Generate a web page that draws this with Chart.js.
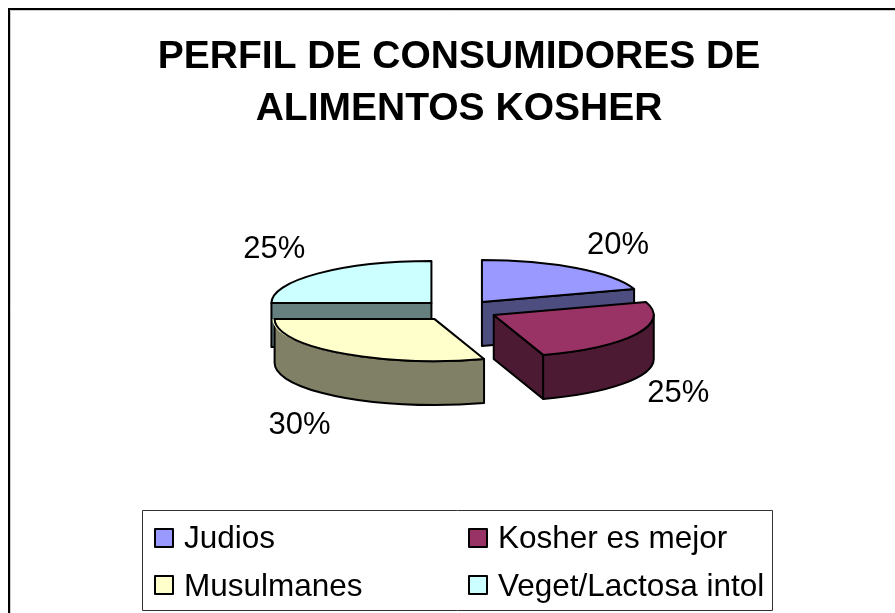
<!DOCTYPE html>
<html>
<head>
<meta charset="utf-8">
<script src="https://cdn.jsdelivr.net/npm/chart.js@4"></script>
<style>
html,body{margin:0;padding:0;background:#fff;}
#wrap{width:895px;height:613px;position:relative;}
</style>
</head>
<body>
<div id="wrap"><canvas id="c" width="895" height="613"></canvas></div>
<script>
const titleLines = ['PERFIL DE CONSUMIDORES DE', 'ALIMENTOS KOSHER'];
const categories = ['Judios', 'Kosher es mejor', 'Musulmanes', 'Veget/Lactosa intol'];
const shares = [20, 25, 30, 25];
const topColors = ['#9999FF', '#993366', '#FFFFCC', '#CCFFFF'];
const sideColors = ['#4D4D80', '#4D1A33', '#808066', '#668080'];

const FONT = '"Liberation Sans", Arial, sans-serif';
const TILT = 42 / 160, DEPTH = 44, LABEL_PX = 31, LEGEND_PX = 31.5;
const paintOrder = [3, 0, 1, 2];
const sliceOffsets = [156, 156, 166, 156];
const labelNudge = [[42, -23], [42, 59], [-41, 72], [-44, -24]];

function apex(arc, cy) {
  const mid = (arc.startAngle + arc.endAngle) / 2;
  const d = (arc.options.offset || 0) / 4;
  return { x: arc.x + Math.cos(mid) * d,
           y: cy + Math.sin(mid) * d * TILT };
}
function edge(p, r, a, dy) {
  return [p.x + Math.cos(a) * r, p.y + Math.sin(a) * r * TILT + (dy || 0)];
}
function topPath(ctx, p, r, s, e) {
  ctx.beginPath();
  ctx.moveTo(p.x, p.y);
  ctx.ellipse(p.x, p.y, r, r * TILT, 0, s, e);
  ctx.closePath();
}
function drawWalls(ctx, p, r, s, e, fill) {
  ctx.fillStyle = fill;
  const quad = (a) => {
    const q = edge(p, r, a), q2 = edge(p, r, a, DEPTH);
    ctx.beginPath();
    ctx.moveTo(p.x, p.y);
    ctx.lineTo(q[0], q[1]);
    ctx.lineTo(q2[0], q2[1]);
    ctx.lineTo(p.x, p.y + DEPTH);
    ctx.closePath();
    ctx.fill(); ctx.stroke();
  };
  if (-Math.cos(s) > 1e-6) quad(s);
  if (Math.cos(e) > 1e-6) quad(e);
  const lo = Math.max(s, 0), hi = Math.min(e, Math.PI);
  if (hi > lo) {
    ctx.beginPath();
    ctx.ellipse(p.x, p.y, r, r * TILT, 0, lo, hi);
    ctx.ellipse(p.x, p.y + DEPTH, r, r * TILT, 0, hi, lo, true);
    ctx.closePath();
    ctx.fill(); ctx.stroke();
  }
}

const sliced3d = {
  id: 'sliced3d',
  beforeDatasetDraw(chart, args) {
    const ctx = chart.ctx, arcs = args.meta.data;
    const cy = (chart.chartArea.top + chart.chartArea.bottom) / 2;
    ctx.lineJoin = 'round';
    ctx.strokeStyle = '#000';
    ctx.lineWidth = 2;
    paintOrder.forEach((i) => {
      const arc = arcs[i];
      const p = apex(arc, cy), r = arc.outerRadius;
      drawWalls(ctx, p, r, arc.startAngle, arc.endAngle, sideColors[i]);
      ctx.save();
      ctx.translate(0, cy * (1 - TILT));
      ctx.scale(1, TILT);
      arc.draw(ctx);
      ctx.restore();
      topPath(ctx, p, r, arc.startAngle, arc.endAngle);
      ctx.stroke();
    });
    return false;
  },
  afterDatasetsDraw(chart) {
    const ctx = chart.ctx, arcs = chart.getDatasetMeta(0).data;
    const cy = (chart.chartArea.top + chart.chartArea.bottom) / 2;
    const total = shares.reduce((a, b) => a + b, 0);
    ctx.fillStyle = '#000';
    ctx.font = LABEL_PX + 'px ' + FONT;
    ctx.textAlign = 'center';
    ctx.textBaseline = 'middle';
    arcs.forEach((arc, i) => {
      const p = apex(arc, cy);
      const e = edge(p, arc.outerRadius, (arc.startAngle + arc.endAngle) / 2);
      ctx.fillText(Math.round(shares[i] / total * 100) + '%', e[0] + labelNudge[i][0], e[1] + labelNudge[i][1]);
    });
  },
  beforeDraw(chart) {
    const ctx = chart.ctx;
    ctx.save();
    ctx.fillStyle = '#fff';
    ctx.fillRect(0, 0, 895, 613);
    ctx.strokeStyle = '#ccc';
    ctx.lineWidth = 1;
    ctx.beginPath();
    ctx.moveTo(10.5, 613);
    ctx.lineTo(10.5, 10.5);
    ctx.lineTo(895, 10.5);
    ctx.stroke();
    ctx.strokeStyle = '#000';
    ctx.lineWidth = 2;
    ctx.beginPath();
    ctx.moveTo(9, 613);
    ctx.lineTo(9, 9);
    ctx.lineTo(895, 9);
    ctx.stroke();
    ctx.restore();
  },
  afterDraw(chart) {
    const ctx = chart.ctx;
    ctx.save();
    ctx.strokeStyle = '#333';
    ctx.lineWidth = 1;
    ctx.fillStyle = '#fff';
    ctx.fillRect(143, 510, 630, 100);
    ctx.strokeRect(142.5, 510.5, 630, 100);
    ctx.font = LEGEND_PX + 'px ' + FONT;
    ctx.textAlign = 'left';
    ctx.textBaseline = 'alphabetic';
    categories.forEach((name, i) => {
      const col = i % 2, row = Math.floor(i / 2);
      const sx = col ? 469 : 155, sy = row ? 576 : 529;
      ctx.fillStyle = topColors[i];
      ctx.strokeStyle = '#000';
      ctx.lineWidth = 2;
      ctx.fillRect(sx, sy, 18, 18);
      ctx.strokeRect(sx, sy, 18, 18);
      ctx.fillStyle = '#000';
      ctx.fillText(name, col ? 498 : 184, row ? 596 : 548);
    });
    ctx.restore();
  }
};

new Chart(document.getElementById('c'), {
  type: 'pie',
  data: {
    labels: categories,
    datasets: [{
      data: shares,
      backgroundColor: topColors,
      borderWidth: 0,
      offset: sliceOffsets
    }]
  },
  options: {
    responsive: false,
    animation: false,
    radius: 160,
    layout: { padding: { top: 0, bottom: 127.14, left: 23, right: 0 } },
    plugins: {
      legend: { display: false },
      tooltip: { enabled: false },
      title: {
        display: true,
        text: titleLines,
        color: '#000',
        font: { family: FONT, size: 39, weight: 'bold', lineHeight: 1.33 },
        padding: { top: 31, bottom: 0 }
      }
    }
  },
  plugins: [sliced3d]
});
</script>
</body>
</html>
